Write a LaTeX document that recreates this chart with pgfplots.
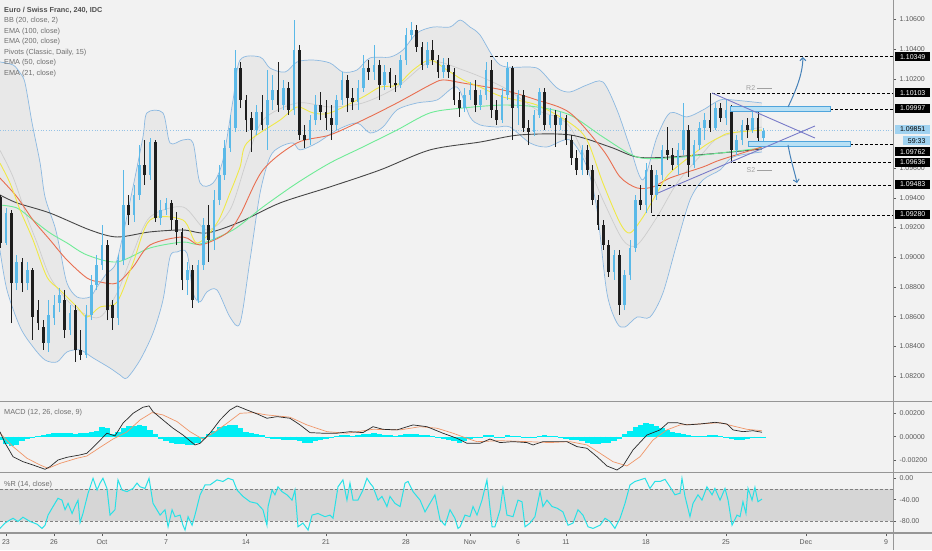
\documentclass[border=0pt]{standalone}
\usepackage{fontspec}
\setmainfont{Liberation Sans}
\usepackage{pgfplots}
\pgfplotsset{compat=1.18}
\usepackage{pgfplotstable}
\usetikzlibrary{arrows.meta}

\definecolor{bgc}{RGB}{242,242,242}
\definecolor{bbfill}{RGB}{232,232,232}
\definecolor{bbline}{RGB}{140,185,225}
\definecolor{basis}{RGB}{205,205,205}
\definecolor{upc}{RGB}{90,185,232}
\definecolor{dnc}{RGB}{30,30,30}
\definecolor{ema21}{RGB}{240,232,70}
\definecolor{ema50}{RGB}{232,110,80}
\definecolor{ema100}{RGB}{110,235,150}
\definecolor{ema200}{RGB}{70,70,70}
\definecolor{tickc}{RGB}{90,90,90}
\definecolor{legc}{RGB}{110,110,110}
\definecolor{titlec}{RGB}{80,80,80}
\definecolor{sepc}{RGB}{150,150,150}
\definecolor{histc}{RGB}{0,238,245}
\definecolor{macdc}{RGB}{40,40,40}
\definecolor{sigc}{RGB}{240,150,105}
\definecolor{wprc}{RGB}{40,225,230}
\definecolor{bandc}{RGB}{214,214,214}
\definecolor{trendc}{RGB}{120,122,200}
\definecolor{arrowc}{RGB}{70,130,185}
\definecolor{rectfill}{RGB}{185,225,245}
\definecolor{rectline}{RGB}{80,165,220}
\definecolor{pricebox}{RGB}{160,210,240}
\definecolor{pricel}{RGB}{150,195,230}
\definecolor{pivc}{RGB}{160,160,160}

% 8-hour OHLC candles, x in trading days from 23 Sep, m = MACD histogram
\pgfplotstableread{
d o h l c m
-0.33 1.09405 1.09419 1.09062 1.09096 -0.0003
0.00 1.09096 1.09331 1.09082 1.09297 -0.0006
0.33 1.09297 1.09318 1.08557 1.08826 -0.0008
0.67 1.08826 1.09015 1.08779 1.08968 -0.0007
1.00 1.08968 1.08995 1.08766 1.08826 -0.0004
1.33 1.08826 1.08968 1.08779 1.08914 -0.0002
1.67 1.08914 1.08927 1.08443 1.08597 -0.0001
2.00 1.08644 1.08711 1.08510 1.08557 0.00005
2.33 1.08530 1.08577 1.08376 1.08423 0.0001
2.67 1.08423 1.08711 1.08362 1.08611 0.0002
3.00 1.08591 1.08746 1.08544 1.08678 0.0003
3.33 1.08691 1.08793 1.08631 1.08746 0.0003
3.67 1.08711 1.08779 1.08456 1.08510 0.0003
4.00 1.08510 1.08678 1.08476 1.08624 0.0003
4.33 1.08644 1.08678 1.08295 1.08376 0.00025
4.67 1.08376 1.08510 1.08308 1.08342 0.0003
5.00 1.08342 1.08678 1.08322 1.08611 0.0003
5.33 1.08611 1.08880 1.08577 1.08813 0.0004
5.67 1.08813 1.09015 1.08779 1.08947 0.0005
6.00 1.08947 1.09217 1.08914 1.09082 0.0008
6.33 1.09082 1.09116 1.08577 1.08644 0.0007
6.67 1.08678 1.08711 1.08510 1.08591 0.0002
7.00 1.08591 1.09015 1.08544 1.08981 0.0004
7.33 1.08981 1.09587 1.08947 1.09351 0.0007
7.67 1.09351 1.09419 1.09217 1.09284 0.0009
8.00 1.09284 1.09486 1.09237 1.09419 0.0009
8.33 1.09419 1.09755 1.09385 1.09621 0.0010
8.67 1.09621 1.09789 1.09486 1.09553 0.0009
9.00 1.09553 1.09802 1.09520 1.09775 0.0006
9.33 1.09775 1.09789 1.09237 1.09264 0.0002
9.67 1.09264 1.09385 1.09217 1.09318 -0.0002
10.00 1.09318 1.09398 1.09284 1.09365 -0.0004
10.33 1.09365 1.09385 1.09183 1.09250 -0.0005
10.67 1.09250 1.09304 1.09082 1.09170 -0.0006
11.00 1.09170 1.09197 1.08779 1.08847 -0.0006
11.33 1.08847 1.08968 1.08746 1.08914 -0.0007
11.67 1.08914 1.08947 1.08658 1.08711 -0.0007
12.00 1.08711 1.08981 1.08691 1.08947 -0.0005
12.33 1.08947 1.09264 1.08914 1.09217 -0.0002
12.67 1.09217 1.09351 1.08968 1.09116 0.0002
13.00 1.09116 1.09452 1.09049 1.09385 0.0005
13.33 1.09385 1.09621 1.09351 1.09553 0.0008
13.67 1.09553 1.09789 1.09520 1.09735 0.0009
14.00 1.09735 1.09957 1.09708 1.09870 0.0010
14.33 1.09870 1.10395 1.09843 1.10273 0.0010
14.67 1.10273 1.10314 1.10004 1.10058 0.0007
15.00 1.10058 1.10092 1.09843 1.09923 0.0004
15.33 1.09937 1.09977 1.09708 1.09856 0.0003
15.67 1.09856 1.10024 1.09823 1.09977 0.0002
16.00 1.09977 1.10092 1.09856 1.09890 0.0001
16.33 1.09890 1.10260 1.09722 1.10058 -0.0001
16.67 1.10058 1.10226 1.09991 1.10125 -0.0002
17.00 1.10125 1.10314 1.09977 1.10024 -0.0002
17.33 1.10024 1.10193 1.09991 1.10139 -0.0003
17.67 1.10139 1.10179 1.09957 1.09991 -0.0003
18.00 1.09991 1.10596 1.09957 1.10395 -0.0003
18.33 1.10395 1.10428 1.09789 1.09823 -0.0004
18.67 1.09823 1.09890 1.09735 1.09789 -0.0005
19.00 1.09789 1.09957 1.09755 1.09923 -0.0005
19.33 1.09923 1.10092 1.09890 1.10024 -0.0004
19.67 1.10024 1.10112 1.09923 1.09977 -0.0003
20.00 1.09977 1.10058 1.09856 1.09937 -0.0002
20.33 1.09937 1.10024 1.09789 1.09890 -0.0001
20.67 1.09890 1.10092 1.09856 1.10058 0.00005
21.00 1.10058 1.10246 1.10024 1.10193 0.0001
21.33 1.10193 1.10226 1.09977 1.10071 0.0001
21.67 1.10071 1.10139 1.09991 1.10045 0.00005
22.00 1.10045 1.10193 1.09991 1.10139 0.0001
22.33 1.10139 1.10361 1.10112 1.10273 0.0002
22.67 1.10273 1.10327 1.10193 1.10246 0.0002
23.00 1.10246 1.10428 1.10193 1.10294 0.0003
23.33 1.10294 1.10327 1.10058 1.10159 0.0002
23.67 1.10159 1.10294 1.10125 1.10246 0.0001
24.00 1.10246 1.10273 1.10139 1.10172 0.0001
24.33 1.10172 1.10226 1.10112 1.10159 0.00005
24.67 1.10159 1.10361 1.10139 1.10327 0.0001
25.00 1.10327 1.10543 1.10294 1.10495 0.0002
25.33 1.10495 1.10583 1.10462 1.10529 0.0002
25.67 1.10529 1.10563 1.10381 1.10415 0.0002
26.00 1.10415 1.10448 1.10260 1.10294 0.0001
26.33 1.10294 1.10448 1.10273 1.10395 0.0001
26.67 1.10395 1.10462 1.10294 1.10327 0.00005
27.00 1.10327 1.10361 1.10206 1.10246 -0.0001
27.33 1.10246 1.10341 1.10206 1.10294 -0.0002
27.67 1.10294 1.10341 1.10206 1.10246 -0.0003
28.00 1.10246 1.10273 1.10024 1.10058 -0.0004
28.33 1.10058 1.10112 1.09944 1.10004 -0.0005
28.67 1.10004 1.10139 1.09977 1.10092 -0.0004
29.00 1.10092 1.10179 1.10058 1.10125 -0.0002
29.33 1.10125 1.10193 1.09977 1.10024 -0.0001
29.67 1.10024 1.10125 1.09991 1.10092 -0.00005
30.00 1.10092 1.10314 1.10058 1.10260 0.0001
30.33 1.10260 1.10327 1.09937 1.09991 0.0001
30.67 1.09991 1.10058 1.09890 1.09923 -0.00005
31.00 1.09923 1.10139 1.09903 1.10092 -0.0001
31.33 1.10092 1.10314 1.10058 1.10273 0.0001
31.67 1.10273 1.10287 1.09789 1.10004 0.00005
32.00 1.10004 1.10125 1.09890 1.10092 0.00005
32.33 1.10092 1.10125 1.09843 1.09870 -0.00005
32.67 1.09870 1.09923 1.09755 1.09843 -0.0001
33.00 1.09843 1.09991 1.09816 1.09957 -0.0001
33.33 1.09957 1.10139 1.09937 1.10112 0.00005
33.67 1.10112 1.10139 1.09856 1.09890 0.0001
34.00 1.09890 1.10004 1.09870 1.09957 0.00005
34.33 1.09957 1.09991 1.09742 1.09890 0.00005
34.67 1.09890 1.09977 1.09856 1.09937 -0.0001
35.00 1.09937 1.09957 1.09755 1.09789 -0.0002
35.33 1.09789 1.09823 1.09621 1.09668 -0.0003
35.67 1.09668 1.09722 1.09553 1.09587 -0.0003
36.00 1.09587 1.09755 1.09553 1.09722 -0.0004
36.33 1.09722 1.09755 1.09553 1.09587 -0.0005
36.67 1.09587 1.09621 1.09351 1.09385 -0.0006
37.00 1.09385 1.09419 1.09183 1.09217 -0.0006
37.33 1.09217 1.09250 1.09049 1.09082 -0.0005
37.67 1.09082 1.09116 1.08867 1.08900 -0.0005
38.00 1.08900 1.09049 1.08847 1.09015 -0.0004
38.33 1.09015 1.09049 1.08611 1.08678 -0.0002
38.67 1.08678 1.08914 1.08644 1.08880 0.0002
39.00 1.08880 1.09116 1.08847 1.09062 0.0005
39.33 1.09062 1.09419 1.09035 1.09385 0.0008
39.67 1.09385 1.09486 1.09318 1.09351 0.0010
40.00 1.09351 1.09634 1.09297 1.09587 0.00115
40.33 1.09587 1.09621 1.09297 1.09419 0.0011
40.67 1.09419 1.09587 1.09385 1.09553 0.0009
41.00 1.09553 1.09755 1.09520 1.09722 0.0007
41.33 1.09722 1.09876 1.09654 1.09688 0.0006
41.67 1.09688 1.09735 1.09587 1.09621 0.0004
42.00 1.09621 1.09769 1.09553 1.09722 0.0003
42.33 1.09722 1.10038 1.09688 1.09856 0.0002
42.67 1.09856 1.09890 1.09540 1.09621 0.0001
43.00 1.09621 1.09789 1.09600 1.09755 0.00005
43.33 1.09755 1.09910 1.09722 1.09870 0.00005
43.67 1.09870 1.09971 1.09789 1.09923 0.00005
44.00 1.09923 1.10105 1.09843 1.09870 0.0001
44.33 1.09870 1.10038 1.09856 1.10004 0.0001
44.67 1.10004 1.10038 1.09910 1.09937 0.00005
45.00 1.09937 1.10058 1.09890 1.09991 -0.00005
45.33 1.09991 1.10024 1.09636 1.09722 -0.0002
45.67 1.09722 1.09823 1.09688 1.09789 -0.0003
46.00 1.09789 1.09923 1.09755 1.09890 -0.0003
46.33 1.09890 1.09937 1.09802 1.09856 -0.0002
46.67 1.09856 1.09977 1.09836 1.09937 -0.0001
47.00 1.09937 1.09977 1.09769 1.09802 -0.00005
47.33 1.09802 1.09870 1.09775 1.09851 -0.00005
}\ohlc

\pgfplotstableread{
d p
-0.38 1.10314
0.44 1.10294
0.88 1.10240
1.19 1.10172
1.63 1.09903
2.13 1.09634
2.44 1.09405
3.06 1.09203
3.38 1.09049
3.81 1.08826
4.44 1.08732
5.25 1.08732
5.69 1.08800
6.31 1.08894
6.94 1.08981
7.94 1.09473
8.56 1.09809
8.81 1.09971
9.81 1.09971
10.25 1.09769
11.06 1.09789
11.69 1.09769
12.13 1.09499
12.94 1.09499
13.56 1.09654
14.19 1.10058
14.63 1.10327
15.88 1.10347
16.5 1.10273
17.44 1.10246
18.19 1.10314
19.19 1.10327
20.25 1.10307
21.06 1.10246
21.94 1.10260
22.75 1.10341
24.0 1.10347
24.81 1.10395
25.69 1.10509
26.69 1.10549
27.75 1.10549
28.38 1.10596
29.0 1.10549
29.63 1.10495
30.88 1.10294
32.75 1.10280
33.38 1.10260
34.44 1.10139
35.25 1.10112
36.31 1.10159
37.31 1.10179
38.19 1.09991
39.0 1.09742
39.81 1.09520
40.69 1.09809
41.5 1.09971
42.56 1.09944
43.56 1.09991
44.63 1.10058
45.44 1.10058
47.25 1.10038
}\bbu

\pgfplotstableread{
d p
-0.38 1.09049
0.06 1.08779
0.88 1.08530
1.69 1.08396
2.44 1.08308
3.19 1.08295
3.81 1.08362
4.63 1.08376
5.44 1.08322
6.5 1.08254
7.13 1.08207
7.56 1.08187
8.38 1.08308
9.19 1.08490
9.81 1.08711
10.25 1.09001
10.69 1.09035
11.31 1.09028
11.69 1.08759
12.13 1.08699
12.56 1.08766
13.19 1.08779
14.0 1.08597
14.63 1.08557
15.25 1.08981
15.88 1.09432
16.5 1.09674
17.13 1.09742
17.94 1.09769
18.38 1.09722
19.44 1.09769
20.69 1.09856
21.94 1.09903
22.75 1.09836
23.56 1.09876
24.44 1.09991
25.69 1.10038
26.94 1.10058
28.19 1.10145
29.0 1.09944
29.63 1.09890
30.69 1.09876
31.5 1.09876
32.75 1.09769
33.81 1.09742
35.25 1.09789
36.31 1.09607
36.94 1.09318
37.56 1.08759
38.19 1.08557
38.69 1.08530
39.44 1.08597
40.25 1.08597
41.06 1.08759
41.94 1.09095
42.75 1.09385
43.56 1.09520
44.63 1.09587
45.44 1.09674
47.25 1.09708
}\bbl

\pgfplotstableread{
d p
-0.38 1.09720
0.44 1.09540
1.31 1.09270
1.94 1.09096
2.75 1.08867
3.81 1.08711
4.81 1.08624
5.88 1.08597
6.94 1.08759
7.94 1.09028
9.0 1.09270
11.06 1.09338
12.56 1.09183
14.0 1.09318
15.06 1.09654
16.06 1.09923
18.19 1.10038
20.25 1.10011
22.31 1.10038
24.44 1.10145
26.5 1.10314
28.56 1.10260
31.06 1.10145
33.19 1.09991
35.25 1.09876
37.31 1.09385
38.56 1.09116
39.44 1.09082
40.69 1.09270
41.94 1.09499
43.56 1.09701
44.63 1.09809
47.25 1.09876
}\bbm

\pgfplotstableread{
d p
-0.38 1.09634
0.25 1.09499
0.88 1.09318
1.69 1.09116
2.56 1.08867
3.38 1.08779
4.44 1.08665
5.06 1.08597
5.88 1.08665
6.94 1.08698
7.94 1.08961
9.0 1.09250
11.06 1.09250
11.94 1.09095
13.19 1.09230
14.0 1.09432
14.63 1.09607
15.06 1.09769
17.13 1.09923
18.19 1.10011
19.19 1.09971
20.25 1.09971
22.31 1.10078
23.38 1.10145
24.44 1.10159
25.44 1.10260
26.5 1.10327
27.56 1.10260
28.56 1.10193
29.63 1.10145
31.06 1.10078
33.19 1.10024
35.25 1.09903
36.31 1.09789
37.31 1.09499
38.38 1.09230
39.0 1.09163
39.81 1.09270
40.69 1.09432
41.5 1.09567
43.56 1.09742
44.63 1.09809
45.25 1.09836
47.25 1.09856
}\emaA

\pgfplotstableread{
d p
-0.38 1.09533
0.69 1.09405
1.69 1.09250
2.75 1.09116
3.81 1.08981
5.06 1.08860
5.88 1.08833
6.94 1.08826
7.94 1.08934
9.0 1.09082
11.06 1.09136
12.13 1.09082
13.81 1.09163
14.63 1.09284
16.06 1.09587
18.19 1.09769
20.25 1.09823
22.31 1.09923
24.44 1.10038
26.5 1.10159
27.31 1.10193
28.56 1.10172
31.06 1.10125
33.19 1.10058
35.25 1.09971
37.31 1.09722
38.38 1.09540
39.44 1.09466
40.44 1.09473
41.5 1.09533
43.56 1.09607
44.63 1.09654
47.25 1.09742
}\emaB

\pgfplotstableread{
d p
-0.38 1.09351
0.69 1.09331
1.69 1.09250
2.75 1.09163
3.81 1.09096
5.06 1.09015
6.94 1.08968
9.0 1.09062
11.06 1.09102
12.13 1.09089
14.19 1.09183
16.06 1.09338
18.19 1.09499
20.25 1.09634
22.31 1.09742
24.44 1.09856
26.5 1.09971
28.56 1.10004
31.06 1.10024
33.19 1.10011
35.25 1.09957
37.31 1.09809
39.44 1.09674
41.5 1.09668
43.56 1.09688
44.63 1.09701
47.25 1.09735
}\emaC

\pgfplotstableread{
d p
-0.38 1.09419
0.69 1.09365
2.75 1.09297
5.25 1.09183
6.94 1.09136
9.0 1.09170
11.06 1.09183
12.56 1.09163
14.63 1.09237
17.13 1.09365
20.25 1.09473
23.38 1.09587
26.5 1.09722
29.63 1.09775
32.13 1.09823
35.25 1.09823
37.75 1.09742
39.44 1.09674
41.5 1.09674
44.63 1.09701
47.25 1.09728
}\emaD

\pgfplotstableread{
d v
-0.38 0.00042
-0.06 -0.00053
0.44 -0.00169
1.06 -0.00211
1.69 -0.00239
2.44 -0.00275
2.75 -0.00253
3.25 -0.00197
3.81 -0.00174
4.63 -0.00154
5.06 -0.00140
5.69 -0.00056
6.31 0.00029
6.81 0.00006
7.31 0.00113
7.94 0.00197
8.56 0.00248
8.94 0.00259
9.19 0.00211
9.81 0.00141
10.44 0.00071
11.06 0.00014
11.81 -0.00070
12.13 -0.00056
12.75 0.00029
13.38 0.00141
14.0 0.00225
14.44 0.00259
15.06 0.00225
15.69 0.00192
16.31 0.00155
16.94 0.00169
17.75 0.00155
18.38 0.00099
19.0 0.00034
19.81 0.00029
20.69 0.00029
21.5 0.00042
22.31 0.00034
22.94 0.00084
23.56 0.00062
24.44 0.00057
25.44 0.00099
26.31 0.00084
27.31 0.00029
28.19 -0.00014
28.81 -0.00056
29.63 -0.00056
30.25 -0.00020
30.88 -0.00050
31.69 -0.00042
32.56 -0.00050
32.94 -0.00070
33.56 -0.00042
34.19 -0.00042
35.06 -0.00042
35.69 -0.00084
36.31 -0.00098
36.94 -0.00169
37.56 -0.00247
38.19 -0.00281
38.56 -0.00247
39.19 -0.00112
40.06 0.00014
40.88 0.00057
41.38 0.00118
41.94 0.00118
42.56 0.00099
43.38 0.00107
44.31 0.00121
45.06 0.00107
45.44 0.00057
46.06 0.00042
46.69 0.00050
47.25 0.00037
}\macd

\pgfplotstableread{
d v
-0.38 0.00030
0.44 -0.00084
1.31 -0.00182
2.13 -0.00239
2.63 -0.00267
3.38 -0.00225
4.44 -0.00182
5.06 -0.00163
5.88 -0.00090
6.69 -0.00020
7.56 0.00040
8.38 0.00141
9.13 0.00203
9.81 0.00183
10.69 0.00127
11.5 0.00042
12.31 -0.00022
12.94 0.00029
13.81 0.00113
14.63 0.00197
15.44 0.00203
16.31 0.00183
17.75 0.00164
18.81 0.00099
20.06 0.00042
21.31 0.00029
22.94 0.00062
24.63 0.00057
25.88 0.00084
26.94 0.00071
27.94 0.00029
28.81 -0.00014
29.44 -0.00042
30.88 -0.00034
32.56 -0.00042
34.0 -0.00050
35.25 -0.00042
36.31 -0.00070
37.13 -0.00140
37.94 -0.00211
38.81 -0.00247
39.63 -0.00169
40.44 -0.00028
41.31 0.00057
42.13 0.00099
43.38 0.00107
44.63 0.00118
45.44 0.00090
46.31 0.00062
47.25 0.00050
}\sigl

\pgfplotstableread{
d r
-0.38 -94
-0.06 -84
0.25 -78
0.44 -75
0.75 -81
1.06 -73
1.5 -81
1.94 -86
2.25 -94
2.44 -88
2.63 -69
2.94 -53
3.25 -37.5
3.5 -41
3.69 -59
3.88 -47
4.13 -66
4.31 -53
4.5 -41
4.63 -83
4.81 -66
5.13 -28
5.44 0
5.69 -22
5.88 -9
6.06 0
6.31 -19
6.5 -69
6.81 -59
7.0 -3
7.25 -22
7.56 -25
7.94 -19
8.19 -9
8.38 -16
8.69 -19
8.94 0
9.19 -47
9.63 -69
9.94 -59
10.13 -91
10.38 -59
10.56 -72
10.88 -69
11.06 -88
11.19 -97
11.38 -72
11.63 -88
11.81 -69
12.13 -31
12.44 -12.5
12.75 -12.5
13.19 -3
13.56 -6
13.88 0
14.19 -3
14.44 -22
14.81 -34
15.25 -44
15.69 -47
16.06 -59
16.31 -88
16.38 -53
16.63 -22
16.81 -31
17.0 -16
17.25 -25
17.56 -31
17.88 -41
18.06 -22
18.25 -91
18.56 -84
18.88 -97
19.13 -69
19.5 -66
19.94 -72
20.25 -69
20.44 -75
20.75 -16
21.06 -3
21.31 -41
21.5 -9
21.69 -41
22.0 -41
22.31 -22
22.56 0
22.75 -9
22.94 -16
23.25 -41
23.5 -34
23.81 -53
24.0 -34
24.31 -47
24.63 -53
24.94 -9
25.13 -6
25.44 -25
25.88 -41
26.19 -63
26.5 -47
26.81 -31
27.13 -78
27.44 -88
27.75 -59
28.06 -75
28.25 -94
28.38 -91
28.69 -69
29.0 -72
29.19 -53
29.44 -69
29.75 -41
30.06 -3
30.38 -91
30.56 -91
30.88 -59
31.06 -19
31.31 -69
31.69 -72
32.0 -41
32.25 -44
32.44 -91
32.75 -84
33.06 -72
33.38 -25
33.56 -53
33.81 -41
34.13 -53
34.44 -56
34.81 -63
35.13 -88
35.44 -84
35.75 -59
36.06 -69
36.38 -91
36.69 -94
37.13 -88
37.44 -75
37.75 -81
38.06 -94
38.38 -75
38.69 -47
39.0 -12.5
39.31 -6
39.63 -3
39.94 0
40.25 -19
40.56 -6
40.88 -6
41.19 -2
41.5 -16
41.81 -31
42.13 -28
42.25 0
42.44 -34
42.75 -72
42.94 -47
43.25 -31
43.5 -41
43.81 -16
44.13 -31
44.31 -19
44.63 -41
44.94 -19
45.13 -41
45.38 -88
45.69 -69
45.88 -72
46.06 -44
46.25 -66
46.38 -19
46.63 -41
46.81 -17
47.0 -44
47.25 -39
}\wpr

\pgfplotsset{
  panel/.style={scale only axis, width=893pt, xmin=-0.375, xmax=55.44,
    anchor=south west, axis line style={draw=none},
    ytick pos=right, yticklabel pos=right,
    tick align=outside, major tick length=3pt,
    tick style={draw=tickc, line width=0.5pt},
    y tick label style={font=\fontsize{7}{8}\selectfont, text=tickc},
    /pgf/number format/assume math mode=true, scaled y ticks=false},
}
\tikzset{
  lvl/.style={fill=black, text=white, anchor=west, inner sep=0pt,
    minimum width=35pt, minimum height=9pt, font=\fontsize{7}{8}\selectfont},
  lvlb/.style={lvl, fill=pricebox, text=black},
  leg/.style={anchor=west, inner sep=0pt, text=legc, font=\fontsize{7.3}{8.5}\selectfont},
  lvline/.style={black, line width=0.8pt, dash pattern=on 3pt off 2pt},
}

\begin{document}
\begin{tikzpicture}[x=1pt, y=1pt]
\path[use as bounding box, fill=bgc] (0,0) rectangle (932,550);

% price panel
\begin{axis}[panel, at={(0pt,149pt)}, height=401pt,
  ymin=1.08032, ymax=1.10731, xtick=\empty,
  ytick={1.082,1.084,1.086,1.088,1.090,1.092,1.094,1.096,1.102,1.104,1.106},
  yticklabel style={/pgf/number format/fixed, /pgf/number format/fixed zerofill,
    /pgf/number format/precision=5}]
% Bollinger area: shade below the upper band, then restore below the lower band
\addplot[fill=bbfill, draw=none, smooth, forget plot] table[x=d, y=p] {\bbu}
  -- (axis cs:47.25,1.0800) -- (axis cs:-0.38,1.0800) -- cycle;
\addplot[fill=bgc, draw=none, smooth, forget plot] table[x=d, y=p] {\bbl}
  -- (axis cs:47.25,1.0800) -- (axis cs:-0.38,1.0800) -- cycle;
\draw[pricel, dotted, line width=0.7pt] (axis cs:-0.375,1.09851) -- (axis cs:55.44,1.09851);
\addplot[bbline, line width=0.7pt, smooth] table[x=d, y=p] {\bbu};
\addplot[bbline, line width=0.7pt, smooth] table[x=d, y=p] {\bbl};
\addplot[basis, line width=0.7pt, smooth] table[x=d, y=p] {\bbm};
\addplot[ema200, line width=0.9pt, smooth] table[x=d, y=p] {\emaD};
\addplot[ema100, line width=0.9pt, smooth] table[x=d, y=p] {\emaC};
\addplot[ema50, line width=0.9pt, smooth] table[x=d, y=p] {\emaB};
\addplot[ema21, line width=0.9pt, smooth] table[x=d, y=p] {\emaA};
% candles: wick from low to high, body from min(o,c); falling rows give zero length
\addplot[upc, line width=0.7pt, forget plot,
  quiver={u=0, v={(\thisrow{c}>=\thisrow{o})*(\thisrow{h}-\thisrow{l})}}]
  table[x=d, y=l] {\ohlc};
\addplot[upc, line width=2.8pt, forget plot,
  quiver={u=0, v={(\thisrow{c}>=\thisrow{o})*(\thisrow{c}-\thisrow{o})}}]
  table[x=d, y=o] {\ohlc};
\addplot[dnc, line width=0.7pt, forget plot,
  quiver={u=0, v={(\thisrow{c}<\thisrow{o})*(\thisrow{h}-\thisrow{l})}}]
  table[x=d, y=l] {\ohlc};
\addplot[dnc, line width=2.8pt, forget plot,
  quiver={u=0, v={(\thisrow{c}<\thisrow{o})*(\thisrow{o}-\thisrow{c})}}]
  table[x=d, y=c] {\ohlc};
% levels
\draw[lvline] (axis cs:30.25,1.10349) -- (axis cs:55.44,1.10349);
\draw[lvline] (axis cs:44.13,1.10103) -- (axis cs:55.44,1.10103);
\draw[lvline] (axis cs:51.5,1.09997) -- (axis cs:55.44,1.09997);
\draw[lvline] (axis cs:52.75,1.09762) -- (axis cs:55.44,1.09762);
\draw[lvline] (axis cs:45.44,1.09636) -- (axis cs:55.44,1.09636);
\draw[lvline] (axis cs:40.75,1.09483) -- (axis cs:55.44,1.09483);
\draw[lvline] (axis cs:40.38,1.09280) -- (axis cs:55.44,1.09280);
% zones
\draw[rectline, fill=rectfill, line width=0.9pt] (axis cs:45.25,1.10014) rectangle (axis cs:51.5,1.09982);
\draw[rectline, fill=rectfill, line width=0.9pt] (axis cs:46.38,1.09782) rectangle (axis cs:52.75,1.09748);
% triangle
\draw[trendc, line width=0.9pt] (axis cs:44.13,1.10105) -- (axis cs:50.56,1.09802);
\draw[trendc, line width=0.9pt] (axis cs:40.75,1.09432) -- (axis cs:50.56,1.09883);
% scenario arrows
\draw[arrowc, line width=1pt, -{Straight Barb[length=3pt,width=6pt]}]
  (axis cs:48.88,1.10011) .. controls (axis cs:49.5,1.10150) and (axis cs:49.8,1.10250) .. (axis cs:49.81,1.10347);
\draw[arrowc, line width=1pt, -{Straight Barb[length=3pt,width=6pt]}]
  (axis cs:48.88,1.09755) .. controls (axis cs:49.05,1.09650) and (axis cs:49.3,1.09570) .. (axis cs:49.44,1.09499);
% pivots
\node[anchor=east, inner sep=1pt, text=pivc, font=\fontsize{7}{8}\selectfont] at (axis cs:46.9,1.10139) {R2};
\draw[pivc, line width=0.6pt] (axis cs:46.94,1.10139) -- (axis cs:47.9,1.10139);
\node[anchor=east, inner sep=1pt, text=pivc, font=\fontsize{7}{8}\selectfont] at (axis cs:46.9,1.09587) {S2};
\draw[pivc, line width=0.6pt] (axis cs:46.94,1.09587) -- (axis cs:47.9,1.09587);
\end{axis}

% MACD panel
\begin{axis}[panel, at={(0pt,78pt)}, height=69.5pt,
  ymin=-0.00298, ymax=0.00288, xtick=\empty,
  ytick={-0.002,0,0.002},
  yticklabel style={/pgf/number format/fixed, /pgf/number format/fixed zerofill,
    /pgf/number format/precision=5}]
\addplot[histc, line width=5.4pt, forget plot, quiver={u=0, v=\thisrow{m}}]
  table[x=d, y expr=0] {\ohlc};
\addplot[sigc, line width=0.7pt] table[x=d, y=v] {\sigl};
\addplot[macdc, line width=0.7pt] table[x=d, y=v] {\macd};
\end{axis}

% Williams %R panel
\begin{axis}[panel, at={(0pt,17pt)}, height=60pt,
  ymin=-102.6, ymax=9.9, xtick pos=left,
  xtick={0,3,6,10,15,20,25,29,32,35,40,45,50,55},
  xticklabels={23,26,Oct,7,14,21,28,Nov,6,11,18,25,Dec,9},
  x tick label style={font=\fontsize{7}{8}\selectfont, text=tickc},
  ytick={-80,-40,0},
  yticklabel style={/pgf/number format/fixed, /pgf/number format/fixed zerofill,
    /pgf/number format/precision=2}]
\fill[bandc] (axis cs:-0.375,-80) rectangle (axis cs:55.44,-20);
\draw[gray, line width=0.8pt, dash pattern=on 3pt off 2pt] (axis cs:-0.375,-20) -- (axis cs:55.44,-20);
\draw[gray, line width=0.8pt, dash pattern=on 3pt off 2pt] (axis cs:-0.375,-80) -- (axis cs:55.44,-80);
\addplot[wprc, line width=1pt] table[x=d, y=r] {\wpr};
\end{axis}

% panel frames
\draw[sepc, line width=1.2pt] (0,148.5) -- (932,148.5);
\draw[sepc, line width=1.2pt] (0,77.5) -- (932,77.5);
\draw[sepc, line width=1.2pt] (0,17) -- (932,17);
\draw[sepc, line width=1pt] (893,0) -- (893,550);

% price scale labels
\node[lvl] at (895,493.3) {1.10349};
\node[lvl] at (895,457) {1.10103};
\node[lvl] at (895,441.5) {1.09997};
\node[lvlb] at (895,420.5) {1.09851};
\node[lvlb, minimum width=27pt] at (903,409) {59:33};
\node[lvl] at (895,398.3) {1.09762};
\node[lvl] at (895,387.5) {1.09636};
\node[lvl] at (895,365.5) {1.09483};
\node[lvl] at (895,335.7) {1.09280};

% legends
\node[leg, text=titlec, font=\fontsize{7.3}{8.5}\selectfont\bfseries] at (4,540) {Euro / Swiss Franc, 240, IDC};
\node[leg] at (4,529.3) {BB (20, close, 2)};
\node[leg] at (4,518.7) {EMA (100, close)};
\node[leg] at (4,508) {EMA (200, close)};
\node[leg] at (4,497.7) {Pivots (Classic, Daily, 15)};
\node[leg] at (4,487.3) {EMA (50, close)};
\node[leg] at (4,476.7) {EMA (21, close)};
\node[leg] at (4,137.3) {MACD (12, 26, close, 9)};
\node[leg] at (4,65) {\%R (14, close)};
\end{tikzpicture}
\end{document}
